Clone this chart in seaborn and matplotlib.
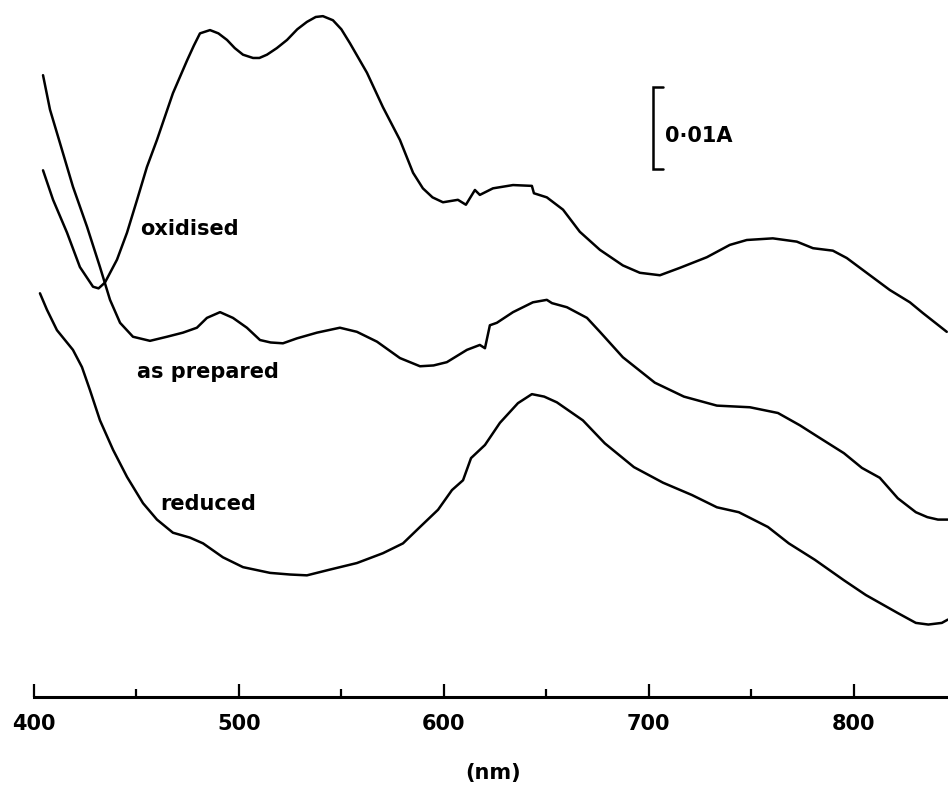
import numpy as np
import pandas as pd
import matplotlib
matplotlib.use("Agg")
import matplotlib.pyplot as plt
import seaborn as sns
from matplotlib import font_manager

# wavelength (nm) / absorbance (mA, arbitrary offsets)
ox_nm = [404.4, 409.3, 416.1, 422.4, 428.8, 431.5, 434.6, 440.5, 445.4, 450.3, 455.1, 460.0, 467.8,
         474.7, 478.0, 481.0, 485.9, 490.0, 494.2, 498.0, 502.0, 506.9, 510.0, 513.7, 518.5, 523.5,
         528.5, 533.2, 537.5, 541.0, 545.9, 550.0, 554.2, 562.5, 570.3, 578.6, 585.0, 589.8, 594.5,
         599.6, 606.9, 610.8, 615.2, 617.6, 624.0, 633.8, 643.0, 644.0, 650.3, 658.2, 666.4, 676.2,
         687.4, 695.7, 705.5, 715.2, 728.4, 739.6, 747.9, 760.6, 772.3, 780.2, 789.9, 796.7, 808.0,
         817.7, 827.5, 833.8, 845.5]
ox_abs = [64.6, 61.0, 57.0, 52.8, 50.4, 50.2, 50.9, 53.7, 57.0, 61.0, 65.0, 68.3, 74.0,
          78.0, 79.8, 81.3, 81.7, 81.3, 80.5, 79.5, 78.7, 78.3, 78.3, 78.7, 79.5, 80.5,
          81.8, 82.7, 83.3, 83.4, 82.9, 81.8, 80.1, 76.5, 72.3, 68.3, 64.3, 62.4, 61.3,
          60.7, 61.0, 60.4, 62.2, 61.6, 62.4, 62.8, 62.7, 61.8, 61.3, 59.8, 57.1, 54.9,
          53.0, 52.1, 51.8, 52.7, 54.0, 55.5, 56.1, 56.3, 55.9, 55.1, 54.8, 53.9, 51.8,
          50.0, 48.5, 47.2, 44.9]

prep_nm = [404.4, 407.8, 412.7, 419.0, 425.9, 432.2, 437.1, 442.0, 448.3, 456.6, 464.9, 472.7,
           479.5, 484.4, 490.8, 497.1, 503.9, 510.3, 515.5, 521.5, 528.3, 538.1, 549.3, 557.6, 567.4,
           578.6, 588.4, 595.0, 601.5, 611.3, 617.6, 620.1, 622.5, 625.9, 633.8, 643.5, 650.3, 652.8,
           660.1, 669.9, 676.2, 687.4, 703.0, 717.2, 733.3, 749.4, 763.1, 773.8, 782.6, 795.3,
           804.1, 812.8, 821.6, 830.4, 836.0, 841.2, 846.0]
prep_abs = [76.2, 72.0, 67.9, 62.6, 57.7, 52.8, 48.8, 46.0, 44.3, 43.8, 44.3, 44.8,
            45.4, 46.6, 47.3, 46.6, 45.4, 43.9, 43.6, 43.5, 44.1, 44.8, 45.4, 44.9, 43.7,
            41.7, 40.7, 40.8, 41.2, 42.7, 43.3, 42.9, 45.7, 46.0, 47.3, 48.5, 48.8, 48.4,
            47.9, 46.6, 44.9, 41.8, 38.7, 37.0, 35.9, 35.7, 35.0, 33.5, 32.1, 30.1,
            28.3, 27.1, 24.6, 22.9, 22.3, 22.0, 22.0]

red_nm = [402.9, 406.3, 411.2, 419.0, 423.4, 427.3, 432.2, 438.6, 445.4, 453.2, 460.0, 467.8,
          476.1, 482.5, 492.2, 502.0, 515.2, 525.0, 533.2, 544.4, 557.6, 570.3, 580.1, 588.4, 597.2,
          604.0, 609.4, 613.3, 620.1, 627.4, 636.2, 643.0, 649.0, 655.2, 667.9, 678.6, 692.8, 707.0,
          721.1, 733.3, 744.0, 758.2, 768.4, 781.1, 795.3, 806.0, 821.6, 830.4, 836.5, 843.1, 846.0]
red_abs = [49.6, 47.6, 45.1, 42.7, 40.6, 37.8, 34.1, 30.5, 27.2, 24.0, 22.0, 20.4,
           19.8, 19.1, 17.4, 16.2, 15.5, 15.3, 15.2, 15.9, 16.7, 17.9, 19.1, 21.1, 23.2,
           25.6, 26.8, 29.5, 31.1, 33.8, 36.2, 37.3, 37.0, 36.3, 34.1, 31.3, 28.4, 26.5,
           25.0, 23.5, 22.9, 21.1, 19.1, 17.1, 14.6, 12.8, 10.6, 9.4, 9.2, 9.4, 9.8]

labels = ["oxidised", "as prepared", "reduced"]
major_ticks = [400, 500, 600, 700, 800]
minor_ticks = [450, 550, 650, 750]
scale_value = 10.0  # 0.01 A in mA
scale_label = "0·01A"

sns.set_style("white")
avail = {f.name for f in font_manager.fontManager.ttflist}
fam = "DejaVu Sans"
for cand in ["DejaVu Sans Condensed", "Liberation Sans Narrow"]:
    if cand in avail:
        fam = cand
        break
plt.rcParams["font.family"] = [fam, "DejaVu Sans"]
narrow = fam != "DejaVu Sans"

frames = []
for name, xs, ys in [(labels[0], ox_nm, ox_abs), (labels[1], prep_nm, prep_abs), (labels[2], red_nm, red_abs)]:
    frames.append(pd.DataFrame({"nm": xs, "A": ys, "state": name}))
df = pd.concat(frames, ignore_index=True)

fig = plt.figure(figsize=(9.48, 7.85), dpi=100)
ax = fig.add_axes([0, 0, 1, 1])
sns.lineplot(data=df, x="nm", y="A", units="state", estimator=None, color="black",
             linewidth=1.8, ax=ax, legend=False)
for line in ax.get_lines():
    line.set_solid_joinstyle("round")
    line.set_solid_capstyle("round")

ax.set_xlim(383.4, 846.1)
ax.set_ylim(-10.37, 85.37)

for s in ["left", "right", "top"]:
    ax.spines[s].set_visible(False)
ax.spines["bottom"].set_position(("data", 0.37))
ax.spines["bottom"].set_bounds(400, 850)
ax.spines["bottom"].set_linewidth(2.2)
ax.spines["bottom"].set_color("black")
ax.set_yticks([])
ax.set_xticks(major_ticks)
ax.set_xticks(minor_ticks, minor=True)
tsize = 16.5 if narrow else 15
ax.set_xticklabels([str(t) for t in major_ticks], fontsize=tsize, fontweight="bold", color="black")
ax.tick_params(axis="x", which="major", bottom=True, direction="in", length=9.5, width=1.6,
               pad=12, color="black")
ax.tick_params(axis="x", which="minor", bottom=True, direction="in", length=5.8, width=1.6,
               color="black")
ax.set_xlabel("")
ax.set_ylabel("")

lsize = 16.5 if narrow else 15
ax.text(451.7, 56.7, labels[0], fontsize=lsize, fontweight="bold", va="baseline", color="black")
ax.text(450.3, 39.3, labels[1], fontsize=lsize, fontweight="bold", va="baseline", color="black")
ax.text(461.5, 23.2, labels[2], fontsize=lsize, fontweight="bold", va="baseline", color="black")

# scale bar
top = 74.76
bx, ex = 702.1, 707.0
ax.plot([ex, bx, bx, ex], [top, top, top - scale_value, top - scale_value],
        color="black", linewidth=1.8, solid_joinstyle="miter")
ax.text(707.9, 68.0, scale_label, fontsize=16 if narrow else 15, fontweight="bold",
        va="baseline", color="black")

fig.text(493 / 948, 1 - 773 / 785, "(nm)", ha="center", va="center",
         fontsize=tsize, fontweight="bold", color="black")

fig.savefig("out.png", dpi=100)
